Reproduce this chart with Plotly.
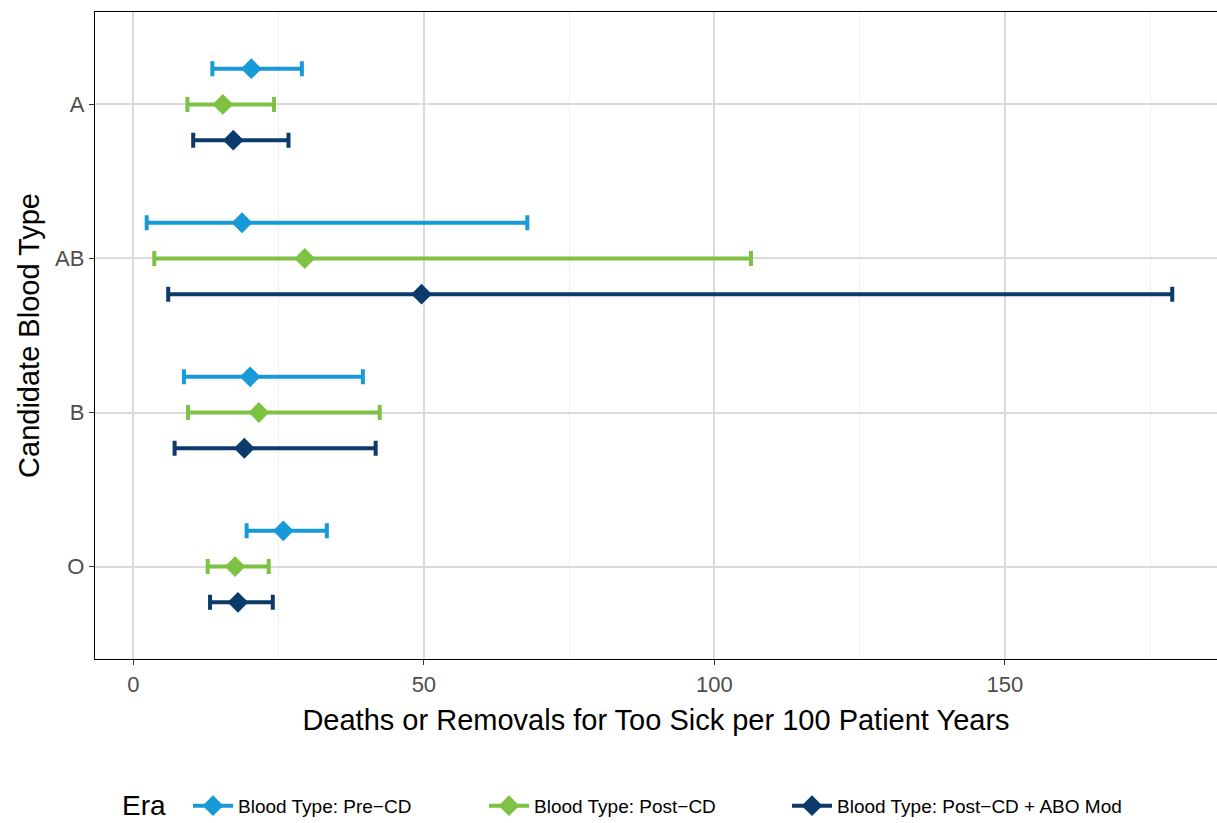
import plotly.graph_objects as go

blood_types = ["A", "AB", "B", "O"]
type_pos = [4, 3, 2, 1]
eras = ["Blood Type: Pre\u2212CD", "Blood Type: Post\u2212CD", "Blood Type: Post\u2212CD + ABO Mod"]
colors = ["#179AD7", "#7DC242", "#0B3A6B"]
offsets = [0.232, 0.0, -0.232]

# estimates per era, in order A, AB, B, O
pre_est = [20.3, 18.7, 20.1, 25.8]
pre_lo = [13.6, 2.3, 8.7, 19.5]
pre_hi = [29.0, 67.8, 39.5, 33.3]

post_est = [15.4, 29.5, 21.6, 17.5]
post_lo = [9.3, 3.6, 9.4, 12.8]
post_hi = [24.2, 106.3, 42.4, 23.3]

abo_est = [17.2, 49.6, 19.1, 18.0]
abo_lo = [10.3, 6.0, 7.1, 13.2]
abo_hi = [26.7, 178.8, 41.7, 24.0]

series = [(pre_est, pre_lo, pre_hi), (post_est, post_lo, post_hi), (abo_est, abo_lo, abo_hi)]
legend_ids = ["legend", "legend2", "legend3"]
legend_px = [188, 484, 787]

fig = go.Figure()
for i, (est, lo, hi) in enumerate(series):
    ys = [p + offsets[i] for p in type_pos]
    fig.add_trace(go.Scatter(
        x=est, y=ys, mode="markers",
        marker=dict(symbol="diamond", size=16, color=colors[i], line=dict(width=0)),
        error_x=dict(type="data", symmetric=False,
                     array=[h - e for h, e in zip(hi, est)],
                     arrayminus=[e - l for e, l in zip(est, lo)],
                     color=colors[i], thickness=4, width=7.5),
        name=eras[i], legendgroup=eras[i], showlegend=False,
        hovertext=blood_types,
    ))
for i in range(3):
    fig.add_trace(go.Scatter(
        x=[None], y=[None], mode="lines+markers",
        marker=dict(symbol="diamond", size=16, color=colors[i]),
        line=dict(color=colors[i], width=4),
        name=eras[i], legendgroup=eras[i], showlegend=True, legend=legend_ids[i],
    ))

legend_common = dict(orientation="h", xanchor="left", y=-0.227, yanchor="middle",
                     font=dict(size=19, color="black"), itemwidth=40,
                     bgcolor="rgba(0,0,0,0)")
fig.update_layout(
    width=1217, height=823,
    margin=dict(l=95, r=0, t=12, b=164, autoexpand=False),
    plot_bgcolor="white", paper_bgcolor="white",
    font=dict(family="Liberation Sans, Arial, sans-serif", color="black"),
    legend=dict(x=(legend_px[0] - 95) / 1122, **legend_common),
    legend2=dict(x=(legend_px[1] - 95) / 1122, **legend_common),
    legend3=dict(x=(legend_px[2] - 95) / 1122, **legend_common),
    annotations=[dict(
        text="Era", xref="paper", yref="paper", x=(120 - 95) / 1122, xanchor="left",
        y=-0.227, yanchor="middle", showarrow=False, font=dict(size=28, color="black"),
    )],
)
fig.update_xaxes(
    range=[-6.6, 186.5], tickvals=[0, 50, 100, 150], ticktext=["0", "50", "100", "150"],
    showgrid=True, gridcolor="#DADADA", gridwidth=2,
    minor=dict(tickvals=[25, 75, 125, 175], showgrid=True, gridcolor="#F0F0F0", gridwidth=1.3, ticks=""),
    zeroline=False, automargin=False,
    showline=True, linecolor="black", linewidth=1.3, mirror=True,
    ticks="outside", ticklen=5, tickcolor="#333333", tickwidth=1.3,
    tickfont=dict(size=22, color="#4D4D4D"),
    title=dict(text="Deaths or Removals for Too Sick per 100 Patient Years",
               font=dict(size=29, color="black"), standoff=14),
)
fig.update_yaxes(
    range=[0.4, 4.6], tickvals=type_pos, ticktext=blood_types,
    showgrid=True, gridcolor="#DADADA", gridwidth=2, zeroline=False, automargin=False,
    showline=True, linecolor="black", linewidth=1.3, mirror=False,
    ticks="outside", ticklen=5, tickcolor="#333333", tickwidth=1.3,
    tickfont=dict(size=22, color="#4D4D4D"),
    title=dict(text="Candidate Blood Type", font=dict(size=29, color="black"), standoff=6),
)

fig.write_html("out.html", config={"displayModeBar": False},
               post_script="document.body.style.margin='0px';")
